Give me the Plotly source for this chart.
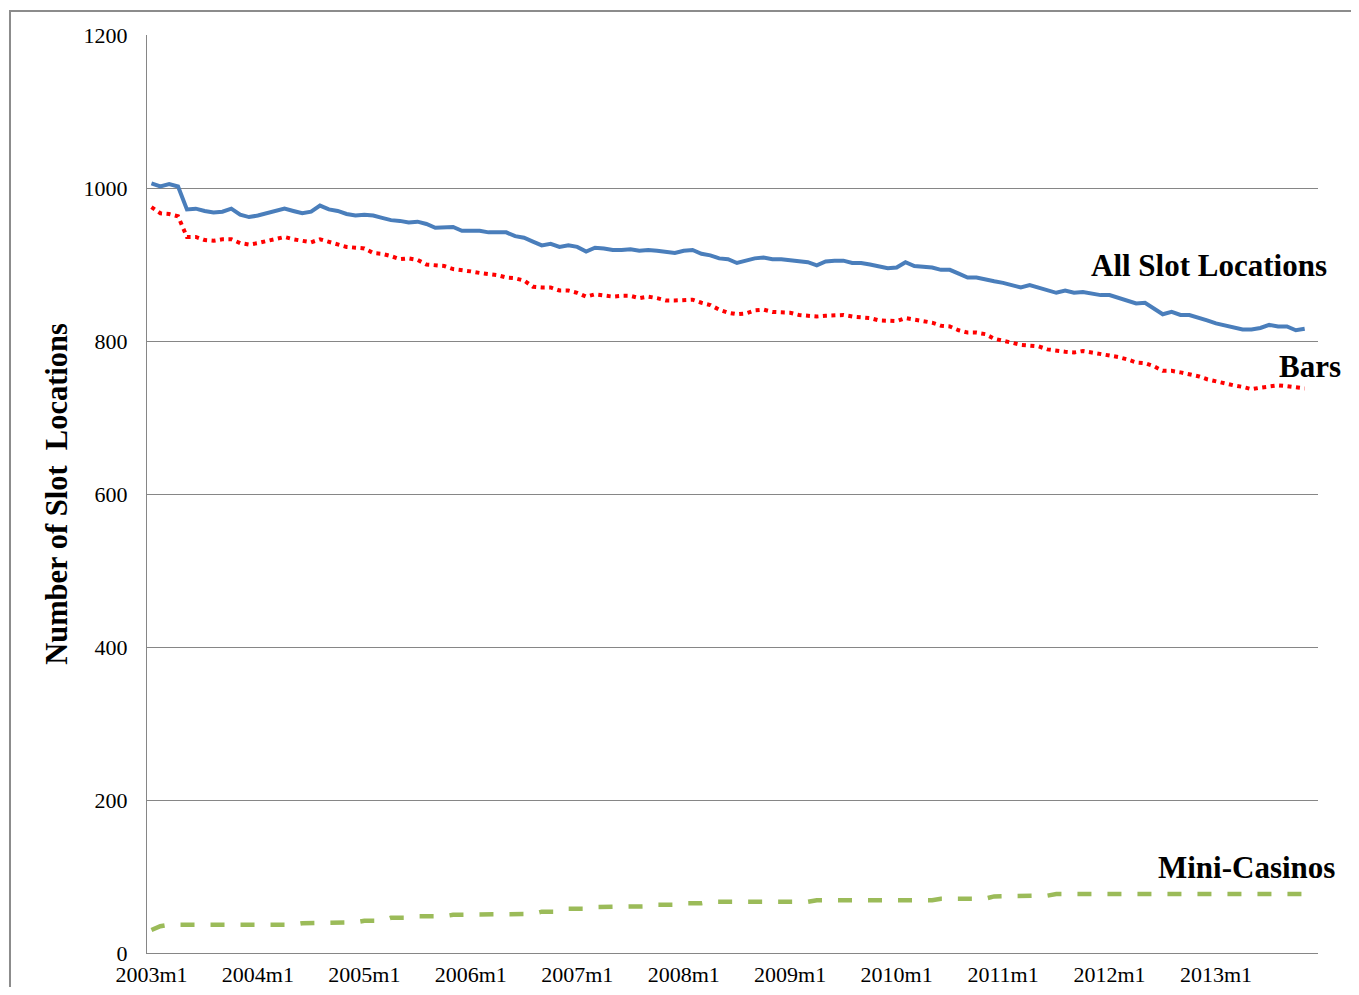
import plotly.graph_objects as go

months = [f"{y}m{m}" for y in range(2003, 2014) for m in range(1, 13)]
tick_labels = [f"{y}m1" for y in range(2003, 2014)]

all_slot = [1006, 1002, 1005, 1002, 972, 973, 970, 968, 969, 973,
            965, 962, 964, 967, 970, 973, 970, 967, 969, 977,
            972, 970, 966, 964, 965, 964, 961, 958, 957, 955,
            956, 953, 948, 948, 949, 944, 944, 944, 942, 942,
            942, 937, 935, 930, 925, 927, 923, 925, 923, 917,
            922, 921, 919, 919, 920, 918, 919, 918, 917, 915,
            918, 919, 914, 912, 908, 907, 902, 905, 908, 909,
            907, 907, 906, 904, 903, 899, 904, 905, 905, 902,
            902, 900, 898, 895, 896, 903, 898, 897, 896, 893,
            893, 888, 883, 883, 880, 878, 876, 873, 870, 873,
            870, 867, 863, 866, 863, 864, 862, 860, 860, 856,
            853, 849, 850, 843, 835, 838, 834, 834, 831, 827,
            823, 820, 818, 815, 815, 817, 821, 819, 819, 814,
            816]

bars = [975, 967, 966, 963, 936, 936, 932, 931, 933, 933,
        928, 926, 928, 931, 933, 936, 933, 931, 929, 933,
        930, 927, 923, 922, 921, 915, 914, 911, 907, 908,
        906, 900, 899, 898, 894, 893, 891, 889, 888, 886,
        883, 882, 879, 871, 870, 870, 866, 866, 863, 858,
        861, 859, 858, 859, 859, 856, 858, 856, 853, 853,
        854, 854, 850, 847, 841, 837, 835, 836, 840, 841,
        838, 838, 837, 834, 833, 832, 833, 834, 834, 832,
        831, 830, 827, 826, 826, 830, 828, 827, 824, 820,
        819, 814, 811, 811, 809, 803, 800, 797, 795, 794,
        793, 789, 787, 786, 785, 787, 785, 783, 782, 779,
        776, 772, 771, 767, 761, 761, 759, 757, 754, 750,
        747, 744, 742, 740, 737, 739, 741, 742, 741, 740,
        738]

mini_casinos = [30, 35, 37, 37, 37, 37, 37, 37, 37, 37,
                37, 37, 37, 37, 37, 37, 37, 39, 39, 39,
                40, 40, 40, 40, 42, 42, 42, 46, 46, 46,
                48, 48, 48, 48, 50, 50, 50, 51, 51, 51,
                51, 51, 51, 51, 54, 54, 54, 58, 58, 58,
                60, 60, 60, 60, 61, 61, 61, 63, 63, 63,
                65, 65, 65, 67, 67, 67, 67, 67, 67, 67,
                67, 67, 67, 67, 67, 69, 69, 69, 69, 69,
                69, 69, 69, 69, 69, 69, 69, 69, 69, 71,
                71, 71, 71, 71, 71, 74, 74, 74, 75, 75,
                75, 75, 77, 77, 77, 77, 77, 77, 77, 77,
                77, 77, 77, 77, 77, 77, 77, 77, 77, 77,
                77, 77, 77, 77, 77, 77, 77, 77, 77, 77,
                77, 77]

FONT = "Liberation Serif, Times New Roman, serif"

fig = go.Figure()
fig.add_trace(go.Scatter(x=months[:len(all_slot)], y=all_slot, mode="lines",
                         name="All Slot Locations",
                         line=dict(color="#4A7EBB", width=4)))
fig.add_trace(go.Scatter(x=months[:len(bars)], y=bars, mode="lines",
                         name="Bars",
                         line=dict(color="#FF0000", width=4, dash="4px,4.5px")))
fig.add_trace(go.Scatter(x=months[:len(mini_casinos)], y=mini_casinos, mode="lines",
                         name="Mini-Casinos",
                         line=dict(color="#9BBB59", width=4.5, dash="14px,16px")))

# page body has an 8px margin; size the figure so the page fits the window
fig.update_layout(
    width=1343, height=979,
    margin=dict(l=139, r=33, t=27, b=34, autoexpand=False),
    paper_bgcolor="white", plot_bgcolor="white",
    showlegend=False,
    font=dict(family=FONT, color="black"),
)
fig.update_xaxes(
    type="category", categoryorder="array", categoryarray=months,
    range=[-0.5, 131.5], automargin=False,
    tickmode="array", tickvals=tick_labels, ticktext=tick_labels,
    tickfont=dict(size=22, family=FONT), tickangle=0,
    showgrid=False, zeroline=False,
    showline=True, linecolor="#868686", linewidth=1,
    ticks="", ticklabelstandoff=2,
)
fig.update_yaxes(
    range=[0, 1200], tickvals=[0, 200, 400, 600, 800, 1000, 1200],
    automargin=False,
    tickfont=dict(size=22, family=FONT),
    showgrid=True, gridcolor="#868686", gridwidth=1,
    zeroline=False, showline=True, linecolor="#868686", linewidth=1,
    ticks="", ticklabelstandoff=14,
)

# outer frame (left and top edges visible)
fig.add_shape(type="rect", xref="paper", yref="paper",
              x0=-0.117, x1=1.2, y0=-0.2, y1=1.0261,
              line=dict(color="#8C8C8C", width=2), layer="below")

fig.add_annotation(xref="paper", yref="paper", x=-0.077, y=0.5,
                   text="<b>Number of Slot  Locations</b>", textangle=-90,
                   showarrow=False, font=dict(size=30.5, family=FONT),
                   xanchor="center", yanchor="middle")
fig.add_annotation(xref="paper", yref="y", x=0.907, y=899,
                   text="<b>All Slot Locations</b>", showarrow=False,
                   font=dict(size=31, family=FONT), xanchor="center", yanchor="middle")
fig.add_annotation(xref="paper", yref="y", x=0.993, y=767,
                   text="<b>Bars</b>", showarrow=False,
                   font=dict(size=31, family=FONT), xanchor="center", yanchor="middle")
fig.add_annotation(xref="paper", yref="y", x=0.939, y=112,
                   text="<b>Mini-Casinos</b>", showarrow=False,
                   font=dict(size=31, family=FONT), xanchor="center", yanchor="middle")

fig.write_html("out.html")
